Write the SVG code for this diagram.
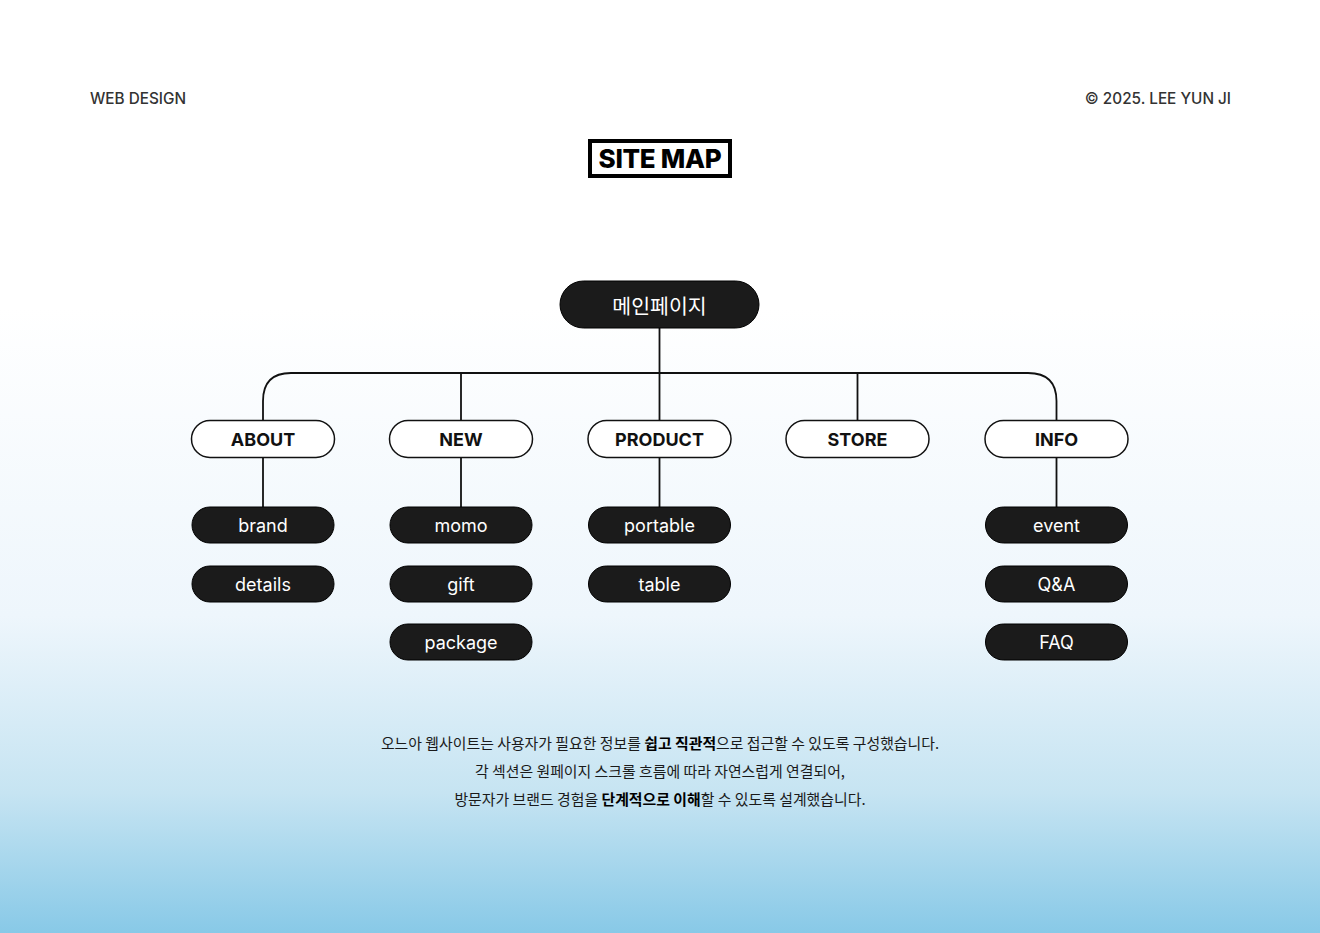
<svg xmlns="http://www.w3.org/2000/svg" width="1320" height="933" viewBox="0 0 1320 933">
<defs>
<linearGradient id="bg" x1="0" y1="0" x2="0" y2="1">
<stop offset="0" stop-color="#ffffff"/>
<stop offset="0.33" stop-color="#ffffff"/>
<stop offset="0.66" stop-color="#eef6fc"/>
<stop offset="0.85" stop-color="#c6e4f2"/>
<stop offset="1" stop-color="#88c9e7"/>
</linearGradient>
<style>
.hdr{font-family:Inter,"Liberation Sans",sans-serif;font-size:15.3px;font-weight:500;fill:#333}
.l1 rect{fill:#fff;stroke:#111;stroke-width:1.5}
.l1 text{font-family:Inter,"Liberation Sans",sans-serif;font-size:18px;font-weight:700;fill:#111;text-anchor:middle}
.l2 rect{fill:#1b1b1b;stroke:#000;stroke-width:1}
.l2 text{font-family:Inter,"Liberation Sans",sans-serif;font-size:18px;font-weight:400;fill:#fff;text-anchor:middle}
.conn path{fill:none;stroke:#111;stroke-width:1.8}
.desc{font-family:"Noto Sans CJK KR",Inter,sans-serif;font-size:14.9px;fill:#1a1a1a;text-anchor:middle}
.desc tspan.b{font-weight:700;fill:#000}
</style>
</defs>
<rect width="1320" height="933" fill="url(#bg)"/>
<text class="hdr" x="90" y="104">WEB DESIGN</text>
<text class="hdr" x="1231" y="104" text-anchor="end">© 2025. LEE YUN JI</text>
<g id="title">
<rect x="590" y="141" width="140" height="35" fill="#fff" stroke="#000" stroke-width="4"/>
<text x="660" y="168" text-anchor="middle" font-family="Inter,'Liberation Sans',sans-serif" font-size="26" font-weight="800" fill="#000" letter-spacing="-0.3">SITE MAP</text>
</g>
<g class="conn" id="connectors">
<path d="M659.5 328 V373"/>
<path d="M263 420 V401 Q263 373 291 373 H1028 Q1056.5 373 1056.5 401 V420"/>
<path d="M461 373 V420"/>
<path d="M659.5 373 V420"/>
<path d="M857.5 373 V420"/>
<path d="M263 458 V507"/>
<path d="M461 458 V507"/>
<path d="M659.5 458 V507"/>
<path d="M1056.5 458 V507"/>
</g>
<g id="main">
<rect x="560" y="281" width="199" height="47" rx="23.5" fill="#1b1b1b" stroke="#000" stroke-width="1"/>
<text x="659.5" y="313.5" text-anchor="middle" font-family="'Noto Sans CJK KR',sans-serif" font-size="20.5" fill="#fff">메인페이지</text>
</g>
<g id="about" class="l1"><rect x="191.5" y="420.5" width="143" height="37" rx="18.5"/><text x="263" y="446">ABOUT</text></g>
<g id="new" class="l1"><rect x="389.5" y="420.5" width="143" height="37" rx="18.5"/><text x="461" y="446">NEW</text></g>
<g id="product" class="l1"><rect x="588" y="420.5" width="143" height="37" rx="18.5"/><text x="659.5" y="446">PRODUCT</text></g>
<g id="store" class="l1"><rect x="786" y="420.5" width="143" height="37" rx="18.5"/><text x="857.5" y="446">STORE</text></g>
<g id="info" class="l1"><rect x="985" y="420.5" width="143" height="37" rx="18.5"/><text x="1056.5" y="446">INFO</text></g>
<g id="brand" class="l2"><rect x="192" y="507" width="142" height="36" rx="18"/><text x="263" y="531.5">brand</text></g>
<g id="details" class="l2"><rect x="192" y="566" width="142" height="36" rx="18"/><text x="263" y="590.5">details</text></g>
<g id="momo" class="l2"><rect x="390" y="507" width="142" height="36" rx="18"/><text x="461" y="531.5">momo</text></g>
<g id="gift" class="l2"><rect x="390" y="566" width="142" height="36" rx="18"/><text x="461" y="590.5">gift</text></g>
<g id="package" class="l2"><rect x="390" y="624" width="142" height="36" rx="18"/><text x="461" y="648.5">package</text></g>
<g id="portable" class="l2"><rect x="588.5" y="507" width="142" height="36" rx="18"/><text x="659.5" y="531.5">portable</text></g>
<g id="table" class="l2"><rect x="588.5" y="566" width="142" height="36" rx="18"/><text x="659.5" y="590.5">table</text></g>
<g id="event" class="l2"><rect x="985.5" y="507" width="142" height="36" rx="18"/><text x="1056.5" y="531.5">event</text></g>
<g id="qa" class="l2"><rect x="985.5" y="566" width="142" height="36" rx="18"/><text x="1056.5" y="590.5">Q&amp;A</text></g>
<g id="faq" class="l2"><rect x="985.5" y="624" width="142" height="36" rx="18"/><text x="1056.5" y="648.5">FAQ</text></g>
<text class="desc" x="660" y="749">오느아 웹사이트는 사용자가 필요한 정보를 <tspan class="b">쉽고 직관적</tspan>으로 접근할 수 있도록 구성했습니다.</text>
<text class="desc" x="660" y="777">각 섹션은 원페이지 스크롤 흐름에 따라 자연스럽게 연결되어,</text>
<text class="desc" x="660" y="805">방문자가 브랜드 경험을 <tspan class="b">단계적으로 이해</tspan>할 수 있도록 설계했습니다.</text>
</svg>
